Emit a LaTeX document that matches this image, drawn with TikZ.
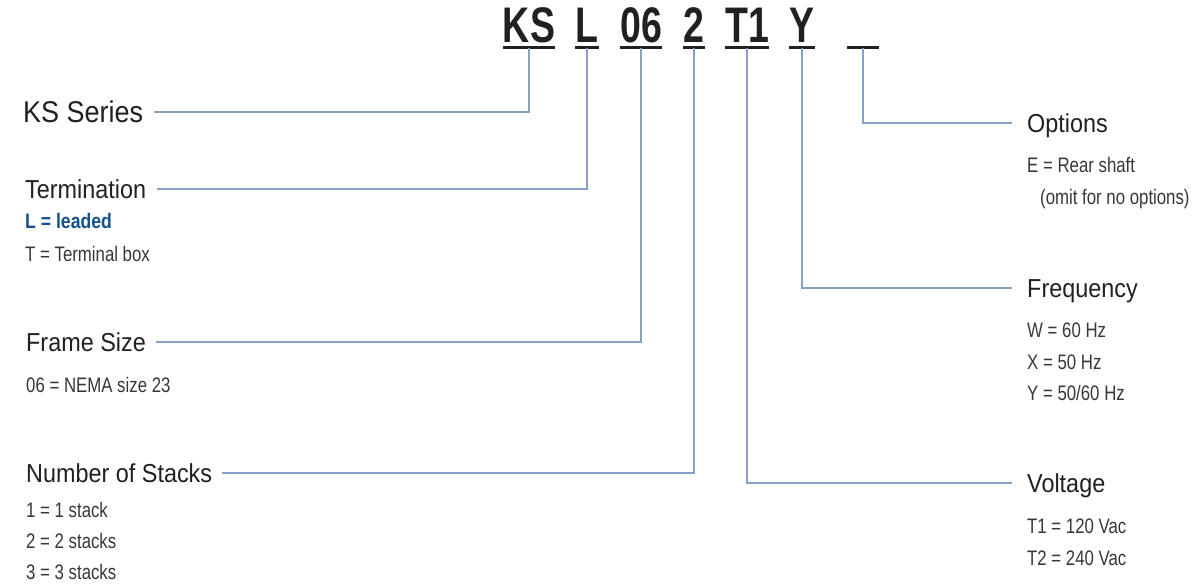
\documentclass[tikz,border=0pt]{standalone}
\usepackage{fontspec}
\setmainfont{Liberation Sans}[FakeStretch=0.8]
\newfontfamily\headfont{Liberation Sans}[FakeStretch=0.9]
\newfontfamily\codefont{Liberation Sans Bold}[FakeStretch=0.75]
\newfontfamily\keyfont{Liberation Sans Bold}[FakeStretch=0.84]
\definecolor{linkblue}{RGB}{134,160,200}
\definecolor{headgray}{RGB}{35,31,32}
\definecolor{subgray}{RGB}{55,55,55}
\definecolor{keyblue}{RGB}{20,82,140}
\tikzset{
  code/.style={font=\codefont\fontsize{50}{50}\selectfont, text=headgray, inner sep=0pt, text height=36pt, text depth=5pt, anchor=south},
  uline/.style={draw=headgray, line width=3pt},
  head/.style={font=\headfont\fontsize{26}{26}\selectfont, text=headgray, inner sep=0pt, text height=19pt, text depth=0pt},
  item/.style={font=\fontsize{21}{21}\selectfont, text=subgray, inner sep=0pt, anchor=base west},
  link/.style={draw=linkblue, line width=1.5pt}
}

\begin{document}
\begin{tikzpicture}[x=1pt, y=-1pt]
  \useasboundingbox (0,0) rectangle (1199,588);

  % model code
  \node[code] (ks) at (529,48) {KS};
  \node[code] (lead) at (587,48) {L};
  \node[code] (frame) at (641,48) {06};
  \node[code] (stack) at (694,48) {2};
  \node[code] (volt) at (747,48) {T1};
  \node[code] (freq) at (802,48) {Y};
  \node[code, minimum width=32pt] (opt) at (863,48) {};
  \foreach \c in {ks,lead,frame,stack,volt,freq,opt}
    \draw[uline] (\c.south west) -- (\c.south east);

  % left column
  \node[head, anchor=west, font=\headfont\fontsize{30}{30}\selectfont, text height=22pt] (series) at (23,112) {KS Series};
  \node[head, anchor=west] (termination) at (25,189) {Termination};
  \node[item, font=\keyfont\fontsize{21}{21}\selectfont, text=keyblue] (leaded) at (25,229) {L = leaded};
  \node[item] (termbox) at (25,261) {T = Terminal box};

  \node[head, anchor=west] (framesize) at (26,342) {Frame Size};
  \node[item] (nema) at (26,392) {06 = NEMA size 23};

  \node[head, anchor=west] (stacks) at (26,473) {Number of Stacks};
  \node[item] (one) at (26,517) {1 = 1 stack};
  \node[item] (two) at (26,548) {2 = 2 stacks};
  \node[item] (three) at (26,579) {3 = 3 stacks};

  % right column
  \node[head, anchor=west] (options) at (1027,123) {Options};
  \node[item] (rear) at (1027,173) {E = Rear shaft};
  \node[item] (omit) at (1040,205) {(omit for no options)};

  \node[head, anchor=west] (frequency) at (1027,288) {Frequency};
  \node[item] (wsixty) at (1027,337) {W = 60 Hz};
  \node[item] (xfifty) at (1027,369) {X = 50 Hz};
  \node[item] (yboth) at (1027,400) {Y = 50/60 Hz};

  \node[head, anchor=west] (voltage) at (1027,483) {Voltage};
  \node[item] (tone) at (1027,533) {T1 = 120 Vac};
  \node[item] (ttwo) at (1027,565) {T2 = 240 Vac};

  % leaders
  \draw[link] (ks.south) |- ([xshift=11pt]series.east);
  \draw[link] (lead.south) |- ([xshift=11pt]termination.east);
  \draw[link] (frame.south) |- ([xshift=10pt]framesize.east);
  \draw[link] (stack.south) |- ([xshift=10pt]stacks.east);
  \draw[link] (volt.south) |- ([xshift=-15pt]voltage.west);
  \draw[link] (freq.south) |- ([xshift=-15pt]frequency.west);
  \draw[link] (opt.south) |- ([xshift=-15pt]options.west);
\end{tikzpicture}
\end{document}
